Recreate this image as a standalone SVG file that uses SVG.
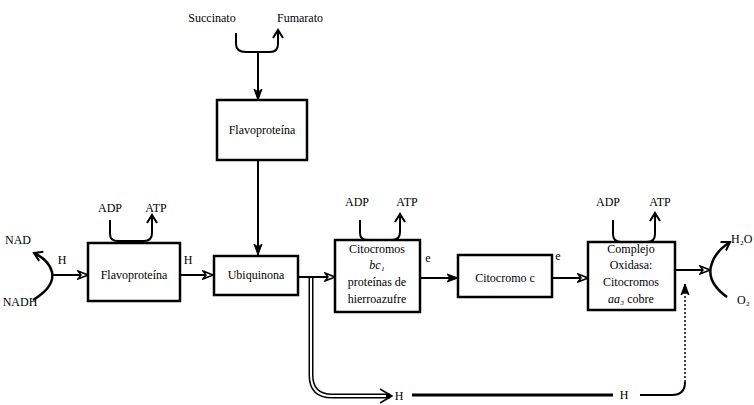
<svg xmlns="http://www.w3.org/2000/svg" width="754" height="405" viewBox="0 0 754 405">
<defs>
<style>
text{font-family:"Liberation Serif","Times New Roman",serif;font-size:12px;fill:#000}
.box{fill:#fff;stroke:#000;stroke-width:2.5}
.ln{fill:none;stroke:#000;stroke-width:2}
.c{text-anchor:middle}
</style>
<marker id="open" viewBox="0 0 12 10" refX="11" refY="5" markerWidth="12" markerHeight="10" markerUnits="userSpaceOnUse" orient="auto">
<path d="M1,1 L11,5 L1,9 L4,5 Z" fill="#fff" stroke="#000" stroke-width="1.5"/>
</marker>
<marker id="chev" viewBox="0 0 12 12" refX="10" refY="6" markerWidth="12" markerHeight="12" markerUnits="userSpaceOnUse" orient="auto">
<path d="M2,1 L10,6 L2,11" fill="none" stroke="#000" stroke-width="2"/>
</marker>
<marker id="fill" viewBox="0 0 12 10" refX="11" refY="5" markerWidth="12" markerHeight="10" markerUnits="userSpaceOnUse" orient="auto">
<path d="M0,1 L11,5 L0,9 L3,5 Z" fill="#000" stroke="#000" stroke-width="1"/>
</marker>
</defs>
<rect width="754" height="405" fill="#fff"/>
<g id="connectors">
<path class="ln" d="M236,33 L236,44 Q236,52 246,52 L270,52 Q278,52 278,44 L278,30" marker-end="url(#chev)"/>
<path class="ln" d="M258,52 L258,100" marker-end="url(#fill)"/>
<path class="ln" d="M258,160 L258,255" marker-end="url(#fill)"/>
<path class="ln" d="M110,220 L110,234 Q110,241 118,241 L144,241 Q152,241 152,233 L152,215" marker-end="url(#chev)"/>
<path class="ln" d="M360,220 L360,233 Q360,240 368,240 L392,240 Q400,240 400,232 L400,214" marker-end="url(#chev)"/>
<path class="ln" d="M613,220 L613,234 Q613,242 621,242 L647,242 Q655,242 655,234 L655,213" marker-end="url(#chev)"/>
<path class="ln" d="M33,300 Q55,287 52,272 Q49,260 34,253" marker-end="url(#chev)" style="stroke-width:2.5"/>
<path class="ln" d="M52,275 L88,275" marker-end="url(#open)"/>
<path class="ln" d="M180,275 L213,275" marker-end="url(#open)"/>
<path class="ln" d="M298,277 L335,277" marker-end="url(#open)"/>
<path class="ln" d="M420,278 L458,278" marker-end="url(#fill)"/>
<path class="ln" d="M552,278 L588,278" marker-end="url(#open)"/>
<path class="ln" d="M675,270 L710,270" marker-end="url(#open)"/>
<path class="ln" d="M727,297 Q705,281 712,263 Q716,251 730,242" marker-end="url(#chev)" style="stroke-width:2.5"/>
<path d="M311,278 L311,375 Q311,396 332,396 L390,396" fill="none" stroke="#000" stroke-width="5"/>
<path d="M311,278 L311,375 Q311,396 332,396 L386,396" fill="none" stroke="#fff" stroke-width="2"/>
<path d="M380,389 L392,396 L380,403" fill="none" stroke="#000" stroke-width="1.5"/>
<path d="M412,395 L613,395" fill="none" stroke="#000" stroke-width="3"/>
<path class="ln" d="M640,395 L672,395 Q685,395 685,382"/>
<path d="M685,382 L685,284" fill="none" stroke="#000" stroke-dasharray="2,2" stroke-width="1.5" marker-end="url(#fill)"/>
</g>
<g id="succinato"><text x="212" y="22" class="c">Succinato</text></g>
<g id="fumarato"><text x="300" y="22" class="c">Fumarato</text></g>
<g id="flavoproteina-top">
<rect class="box" x="217" y="100" width="90" height="60"/>
<text x="262" y="134" class="c">Flavoproteína</text>
</g>
<g id="nad"><text x="18" y="244" class="c">NAD</text></g>
<g id="nadh"><text x="20" y="306" class="c">NADH</text></g>
<g id="adp1"><text x="110" y="212" class="c">ADP</text><text x="156" y="212" class="c">ATP</text></g>
<g id="flavoproteina-left">
<rect class="box" x="88" y="243" width="92" height="58"/>
<text x="134" y="279" class="c">Flavoproteína</text>
</g>
<g id="labels-h">
<text x="62" y="264" class="c">H</text>
<text x="188" y="264" class="c">H</text>
<text x="428" y="262" class="c">e</text>
<text x="558" y="260" class="c">e</text>
<text x="399" y="400" class="c">H</text>
<text x="624" y="399" class="c">H</text>
</g>
<g id="ubiquinona">
<rect class="box" x="214" y="256" width="84" height="39"/>
<text x="256" y="279" class="c">Ubiquinona</text>
</g>
<g id="adp2"><text x="357" y="206" class="c">ADP</text><text x="407" y="206" class="c">ATP</text></g>
<g id="citocromos-bc">
<rect class="box" x="335" y="240" width="85" height="72"/>
<text x="377" y="253" class="c">Citocromos</text>
<text x="377" y="269" class="c" font-style="italic">bc₁</text>
<text x="377" y="286" class="c">proteínas de</text>
<text x="377" y="303" class="c">hierroazufre</text>
</g>
<g id="citocromo-c">
<rect class="box" x="458" y="255" width="94" height="42"/>
<text x="505" y="282" class="c">Citocromo c</text>
</g>
<g id="adp3"><text x="608" y="206" class="c">ADP</text><text x="660" y="206" class="c">ATP</text></g>
<g id="complejo">
<rect class="box" x="588" y="242" width="87" height="68"/>
<text x="631" y="253" class="c">Complejo</text>
<text x="631" y="269" class="c">Oxidasa:</text>
<text x="631" y="286" class="c">Citocromos</text>
<text x="631" y="303" class="c"><tspan font-style="italic">aa₃</tspan> cobre</text>
</g>
<g id="h2o"><text x="731" y="243" font-size="11">H₂O</text></g>
<g id="o2"><text x="737" y="304">O₂</text></g>
</svg>
